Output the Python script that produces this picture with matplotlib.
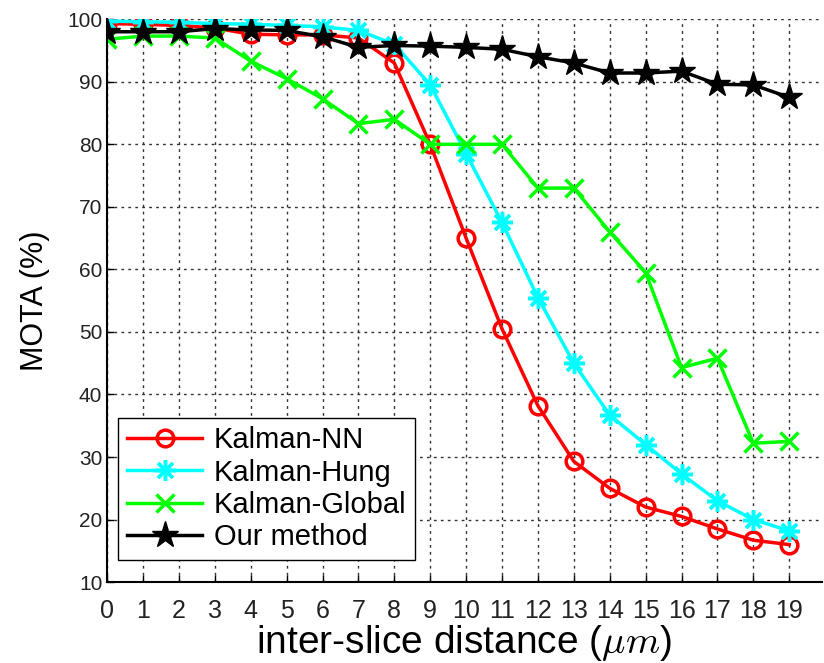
import numpy as np
import matplotlib.pyplot as plt

plt.rcParams['mathtext.fontset'] = 'cm'

# inter-slice distance (um)
dist = np.arange(0, 20)

kalman_nn = [99.3, 99.2, 99.0, 98.6, 97.6, 97.5, 97.5, 97.0, 93.0, 80.0,
             65.0, 50.5, 38.2, 29.3, 25.0, 22.0, 20.5, 18.5, 16.7, 16.0]
kalman_hung = [99.7, 99.6, 99.5, 99.3, 99.2, 99.0, 98.8, 98.2, 96.0, 89.5,
               78.5, 67.5, 55.5, 45.0, 36.7, 32.0, 27.3, 23.0, 20.0, 18.2]
kalman_global = [96.8, 97.3, 97.3, 97.0, 93.3, 90.5, 87.3, 83.3, 84.0, 80.0,
                 80.0, 80.0, 73.0, 73.0, 66.0, 59.5, 44.3, 45.8, 32.2, 32.5]
our_method = [98.0, 98.0, 98.0, 98.5, 98.3, 98.2, 97.2, 95.5, 95.8, 95.7,
              95.5, 95.2, 94.0, 93.0, 91.4, 91.4, 91.7, 89.6, 89.5, 87.5]

fig = plt.figure(figsize=(8.24, 6.63), dpi=100)
ax = fig.add_axes([0.130, 0.122, 0.867, 0.849])

lw = 2.5
ax.plot(dist, kalman_nn, color='#ff0000', lw=lw, marker='o', ms=12,
        mfc='none', mec='#ff0000', mew=2.5, label='Kalman-NN')
ax.plot(dist, kalman_hung, color='#00ffff', lw=lw, marker=(8, 2, 0), ms=15,
        mec='#00ffff', mew=2.5, label='Kalman-Hung')
ax.plot(dist, kalman_global, color='#00ff00', lw=lw, marker='x', ms=13,
        mec='#00ff00', mew=2.5, label='Kalman-Global')
ax.plot(dist, our_method, color='black', lw=lw, marker='*', ms=20,
        mfc='black', mec='black', label='Our method')

ax.set_xlim(0, 19.9)
ax.set_ylim(10, 100)
ax.set_xticks(dist)
ax.set_yticks(np.arange(10, 101, 10))
ax.grid(True, color='#333333', ls=(0, (2, 3)), lw=1)

for s in ['top', 'right']:
    ax.spines[s].set_visible(False)
ax.spines['left'].set_linewidth(1.5)
ax.spines['bottom'].set_linewidth(1.5)

ax.tick_params(direction='in', length=5, width=1)
for lab in ax.get_xticklabels():
    lab.set_family(['Liberation Sans Narrow', 'Liberation Sans'])
    lab.set_fontsize(18)
    lab.set_color('#222222')
for lab in ax.get_yticklabels():
    lab.set_family('Liberation Sans')
    lab.set_fontsize(15)
    lab.set_color('#222222')
ax.tick_params(axis='x', pad=12)

ax.set_ylabel('MOTA (%)', fontsize=22, family='Liberation Sans', labelpad=12)
ax.set_xlabel(r'inter-slice distance ($\mu m$)', fontsize=28,
              family='Liberation Sans', labelpad=0)

leg = ax.legend(loc='lower left', bbox_to_anchor=(0.015, 0.039),
                borderaxespad=0,
                prop={'family': 'Liberation Sans', 'size': 21},
                fancybox=False, edgecolor='black', framealpha=1,
                handlelength=2.6, handletextpad=0.4, labelspacing=0.15,
                borderpad=0.3)
leg.get_frame().set_linewidth(1)

fig.savefig('out.png', dpi=100)
